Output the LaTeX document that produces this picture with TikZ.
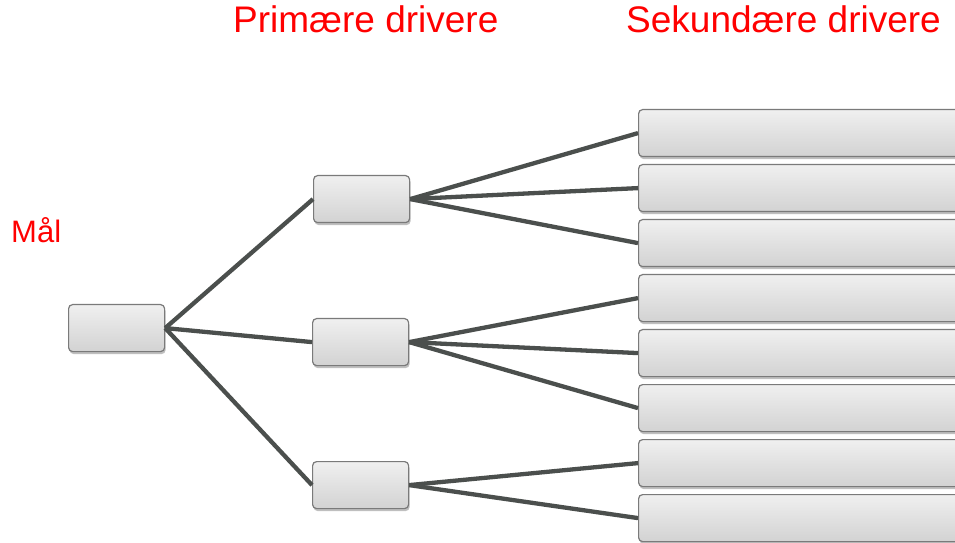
\documentclass[tikz,border=0pt]{standalone}
\usepackage{fontspec}
\setmainfont{Liberation Sans}
\usetikzlibrary{shadows}
\definecolor{linegray}{HTML}{4B4F4D}
\definecolor{boxborder}{HTML}{7A7A7A}
\tikzset{
  box/.style={draw=boxborder, line width=1.2bp, rounded corners=4bp,
    top color=gray!12, bottom color=gray!35, minimum width=96bp, minimum height=47bp,
    inner sep=0pt, anchor=north west,
    drop shadow={shadow xshift=1bp, shadow yshift=-2.5bp, opacity=0.25, fill=black}},
  widebox/.style={box, minimum width=330bp},
  conn/.style={draw=linegray, line width=4.3bp},
  title/.style={text=red, font=\fontsize{37bp}{40bp}\selectfont, anchor=base west, inner sep=0pt}
}
\begin{document}
\begin{tikzpicture}[x=1bp,y=-1bp]
\useasboundingbox (0,0) rectangle (955,543);
\clip (0,0) rectangle (955,543);
\node[title] (t1) at (233,33) {Primære drivere};
\node[title] (t2) at (626,33) {Sekundære drivere};
\node[title, font=\fontsize{31bp}{34bp}\selectfont] (t3) at (11,243) {Mål};

\node[box] (g) at (68,304) {};
\node[box] (p1) at (313,175) {};
\node[box] (p2) at (312,318) {};
\node[box] (p3) at (312,461) {};

\foreach \i/\y in {1/109,2/164,3/219,4/274,5/329,6/384,7/439,8/494}{
  \node[widebox] (s\i) at (638,\y) {};
}

\draw[conn] (g.east) -- (p1.west);
\draw[conn] (g.east) -- (p2.west);
\draw[conn] (g.east) -- (p3.west);
\draw[conn] (p1.east) -- (s1.west);
\draw[conn] (p1.east) -- (s2.west);
\draw[conn] (p1.east) -- (s3.west);
\draw[conn] (p2.east) -- (s4.west);
\draw[conn] (p2.east) -- (s5.west);
\draw[conn] (p2.east) -- (s6.west);
\draw[conn] (p3.east) -- (s7.west);
\draw[conn] (p3.east) -- (s8.west);
\end{tikzpicture}
\end{document}
